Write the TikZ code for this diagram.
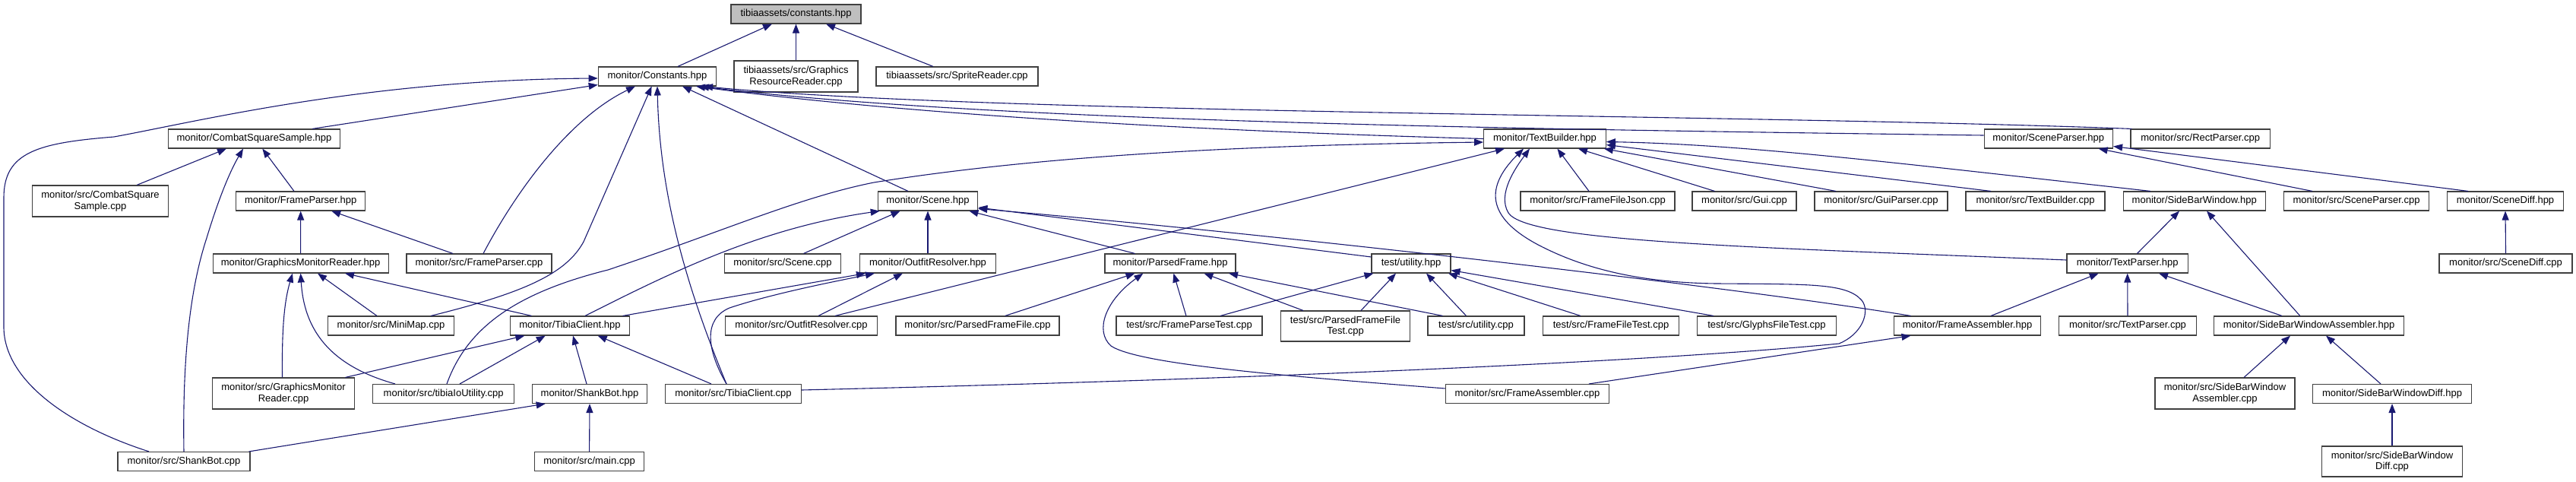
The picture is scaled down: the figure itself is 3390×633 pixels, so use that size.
\documentclass[tikz,border=0pt]{standalone}
\usepackage{fontspec}
\setmainfont{Liberation Sans}
\usetikzlibrary{arrows.meta}
\definecolor{navyedge}{HTML}{191970}
\definecolor{boxline}{HTML}{404040}
\definecolor{rootfill}{HTML}{BFBFBF}
\begin{document}
\begin{tikzpicture}[x=1pt,y=-1pt,
  box/.style={draw=boxline,line width=1.1pt,fill=white,inner sep=0pt,align=center,
    font=\fontsize{13}{14.5}\selectfont,minimum height=25pt},
  dep/.style={draw=navyedge,line width=1.1pt,-{Triangle[length=12pt,width=9pt]}}]
\useasboundingbox (0,0) rectangle (3390,633);
% row 0
\node[box,fill=rootfill,minimum width=171pt] (root) at (1047.5,18.5) {tibiaassets/constants.hpp};
% row 1
\node[box,minimum width=155.5pt] (Const) at (865,100.5) {monitor/Constants.hpp};
\node[box,minimum width=163pt,minimum height=41pt] (GRR) at (1047.5,100.5) {tibiaassets/src/Graphics\\ResourceReader.cpp};
\node[box,minimum width=213pt] (Sprite) at (1259.5,100.5) {tibiaassets/src/SpriteReader.cpp};
% row 2
\node[box,minimum width=225.5pt] (CSSh) at (334.5,182.5) {monitor/CombatSquareSample.hpp};
\node[box,minimum width=160.7pt] (TBh) at (2033,182.5) {monitor/TextBuilder.hpp};
\node[box,minimum width=169.5pt] (SPh) at (2695.8,182.5) {monitor/SceneParser.hpp};
\node[box,minimum width=183.5pt] (Rect) at (2895.7,182.5) {monitor/src/RectParser.cpp};
% row 3
\node[box,minimum width=179pt,minimum height=41pt] (CSSc) at (132,264.5) {monitor/src/CombatSquare\\Sample.cpp};
\node[box,minimum width=169.7pt] (FPh) at (395.7,264.5) {monitor/FrameParser.hpp};
\node[box,minimum width=131.5pt] (Sceneh) at (1221,264.5) {monitor/Scene.hpp};
\node[box,minimum width=203pt] (FFJ) at (2102.5,264.5) {monitor/src/FrameFileJson.cpp};
\node[box,minimum width=137pt] (Gui) at (2295.5,264.5) {monitor/src/Gui.cpp};
\node[box,minimum width=175pt] (GuiP) at (2475.5,264.5) {monitor/src/GuiParser.cpp};
\node[box,minimum width=183pt] (TBc) at (2678.5,264.5) {monitor/src/TextBuilder.cpp};
\node[box,minimum width=187pt] (SBW) at (2887.7,264.5) {monitor/SideBarWindow.hpp};
\node[box,minimum width=190.5pt] (SPc) at (3101,264.5) {monitor/src/SceneParser.cpp};
\node[box,minimum width=152.5pt] (SDh) at (3297,264.5) {monitor/SceneDiff.hpp};
% row 4
\node[box,minimum width=231pt] (GMRh) at (395.6,346.5) {monitor/GraphicsMonitorReader.hpp};
\node[box,minimum width=191pt] (FPc) at (630.5,346.5) {monitor/src/FrameParser.cpp};
\node[box,minimum width=153.4pt] (Scenec) at (1030,346.5) {monitor/src/Scene.cpp};
\node[box,minimum width=179pt] (ORh) at (1221,346.5) {monitor/OutfitResolver.hpp};
\node[box,minimum width=172pt] (PFh) at (1540,346.5) {monitor/ParsedFrame.hpp};
\node[box,minimum width=104pt] (TUh) at (1857,346.5) {test/utility.hpp};
\node[box,minimum width=159.4pt] (TPh) at (2799.7,346.5) {monitor/TextParser.hpp};
\node[box,minimum width=175pt] (SDc) at (3297.5,346.5) {monitor/src/SceneDiff.cpp};
% row 5
\node[box,minimum width=166pt] (Mini) at (514.5,428.5) {monitor/src/MiniMap.cpp};
\node[box,minimum width=156.5pt] (TCh) at (750,428.5) {monitor/TibiaClient.hpp};
\node[box,minimum width=200.4pt] (ORc) at (1054.5,428.5) {monitor/src/OutfitResolver.cpp};
\node[box,minimum width=215pt] (PFFc) at (1286.5,428.5) {monitor/src/ParsedFrameFile.cpp};
\node[box,minimum width=192pt] (FPT) at (1565,428.5) {test/src/FrameParseTest.cpp};
\node[box,minimum width=169.5pt,minimum height=40pt] (PFFT) at (1770.5,429) {test/src/ParsedFrameFile\\Test.cpp};
\node[box,minimum width=127pt] (TUc) at (1942.5,428.5) {test/src/utility.cpp};
\node[box,minimum width=179pt] (FFT) at (2120,428.5) {test/src/FrameFileTest.cpp};
\node[box,minimum width=183pt] (GFT) at (2325,428.5) {test/src/GlyphsFileTest.cpp};
\node[box,minimum width=193.7pt] (FAh) at (2589,428.5) {monitor/FrameAssembler.hpp};
\node[box,minimum width=180.5pt] (TPc) at (2800,428.5) {monitor/src/TextParser.cpp};
\node[box,minimum width=250pt] (SBWAh) at (3038.5,428.5) {monitor/SideBarWindowAssembler.hpp};
% row 6
\node[box,minimum width=187.6pt,minimum height=41pt] (GMRc) at (373,517.5) {monitor/src/GraphicsMonitor\\Reader.cpp};
\node[box,minimum width=186pt] (TIU) at (583.7,518) {monitor/src/tibiaIoUtility.cpp};
\node[box,minimum width=151.5pt] (SBh) at (776,518) {monitor/ShankBot.hpp};
\node[box,minimum width=178.8pt] (TCc) at (965,518) {monitor/src/TibiaClient.cpp};
\node[box,minimum width=215.5pt] (FAc) at (2010,518) {monitor/src/FrameAssembler.cpp};
\node[box,minimum width=184pt,minimum height=41pt] (SBWAc) at (2928,517.5) {monitor/src/SideBarWindow\\Assembler.cpp};
\node[box,minimum width=208.3pt] (SBWDh) at (3148,518) {monitor/SideBarWindowDiff.hpp};
% row 7
\node[box,minimum width=174pt] (SBc) at (242,607) {monitor/src/ShankBot.cpp};
\node[box,minimum width=144pt] (main) at (775.6,607) {monitor/src/main.cpp};
\node[box,minimum width=184.5pt,minimum height=40pt] (SBWDc) at (3148,607) {monitor/src/SideBarWindow\\Diff.cpp};

% edges (arrow tip at the included file)
\draw[dep] ([xshift=27pt]Const.north) -- ([xshift=-31.5pt]root.south);
\draw[dep] (GRR.north) -- (root.south);
\draw[dep] ([xshift=-31.5pt]Sprite.north) -- ([xshift=39.5pt]root.south);
\draw[dep] ([xshift=76.5pt]CSSh.north) -- ([yshift=2pt]Const.south west);
\draw[dep] ([xshift=-46pt]SBc.north) .. controls (90,560) and (5,500) .. (5,430) -- (5,260) .. controls (5,200) and (50,188) .. (150,180) .. controls (260,160) and (480,105) .. ([yshift=-2.5pt]Const.west);
\draw[dep] ([xshift=5.5pt]FPc.north) .. controls (680,250) and (750,155) .. ([xshift=-29pt]Const.south);
\draw[dep] ([xshift=52.5pt]Mini.north) .. controls (690,385) and (745,360) .. (768,318) -- ([xshift=-7.4pt]Const.south);
\draw[dep] ([xshift=-9pt]TCc.north) .. controls (900,370) and (868,250) .. (Const.south);
\draw[dep] ([xshift=-26pt]Sceneh.north) -- ([xshift=33pt]Const.south);
\draw[dep] (TBh.west) .. controls (1500,170) and (1150,145) .. ([xshift=51pt]Const.south);
\draw[dep] ([yshift=4.5pt]SPh.west) .. controls (2000,170) and (1300,160) .. ([xshift=56pt]Const.south);
\draw[dep] ([xshift=2pt]Rect.north west) .. controls (2300,150) and (1300,150) .. ([xshift=61pt]Const.south);
\draw[dep] ([xshift=4.3pt]TIU.north) .. controls (615,430) and (680,385) .. (800,355) .. controls (950,305) and (1050,260) .. (1150,240) .. controls (1400,200) and (1700,190) .. ([yshift=-4.5pt]TBh.west);
\draw[dep] ([xshift=44.5pt]ORc.north) -- ([xshift=-53pt]TBh.south);
\draw[dep] ([xshift=-11.5pt]FFJ.north) -- ([xshift=16.4pt]TBh.south);
\draw[dep] ([xshift=-39pt]Gui.north) -- ([xshift=44pt]TBh.south);
\draw[dep] ([xshift=-59.5pt]GuiP.north) -- ([xshift=-3pt]TBh.south east);
\draw[dep] ([xshift=-58.5pt]TBc.north) -- ([yshift=-8pt]TBh.east);
\draw[dep] ([xshift=-57.7pt]SBW.north) .. controls (2500,215) and (2300,190) .. ([yshift=-4pt]TBh.east);
\draw[dep] ([yshift=4.5pt]TPh.west) .. controls (2300,325) and (2010,318) .. (1985,280) .. controls (1970,255) and (1995,220) .. ([xshift=-20pt]TBh.south);
\draw[dep] ([yshift=5pt]TCc.east) .. controls (1600,500) and (2150,478) .. (2420,452) .. controls (2450,440) and (2462,410) .. (2450,395) .. controls (2430,372) and (2380,374) .. (2260,373) .. controls (2150,372) and (2080,350) .. (2030,325) .. controls (1960,290) and (1950,250) .. ([xshift=-28pt]TBh.south);
\draw[dep] ([xshift=20pt]TCh.north) .. controls (880,360) and (1000,300) .. ([xshift=3pt]Sceneh.south west);
\draw[dep] ([xshift=27.5pt]Scenec.north) -- ([xshift=-36.5pt]Sceneh.south);
\draw[dep] (ORh.north) -- (Sceneh.south);
\draw[dep] ([xshift=-46.5pt]PFh.north) -- ([xshift=54.4pt]Sceneh.south);
\draw[dep] ([yshift=8.5pt]TUh.west) -- ([yshift=-8.5pt]Sceneh.east);
\draw[dep] ([xshift=-74.5pt]FAh.north) .. controls (2300,380) and (1700,310) .. ([yshift=-10pt]Sceneh.east);
\draw[dep] ([xshift=22.5pt]ORc.north) -- ([xshift=-33pt]ORh.south);
\draw[dep] ([xshift=69.5pt]TCh.north) -- ([xshift=8pt]ORh.south west);
\draw[dep] ([xshift=-9pt]TCc.north) .. controls (930,460) and (925,420) .. (960,405) .. controls (1020,385) and (1110,368) .. ([xshift=20pt]ORh.south west);
\draw[dep] ([xshift=81.4pt]GMRc.north) -- ([xshift=-59.6pt]TCh.south);
\draw[dep] ([xshift=21.3pt]TIU.north) -- ([xshift=-32.3pt]TCh.south);
\draw[dep] ([xshift=-4pt]SBh.north) -- ([xshift=4pt]TCh.south);
\draw[dep] ([xshift=-29pt]TCc.north) -- ([xshift=36.7pt]TCh.south);
\draw[dep] ([xshift=-18.5pt]Mini.north) -- ([xshift=22.4pt]GMRh.south);
\draw[dep] ([xshift=-50.5pt]TCh.north) -- ([xshift=58.4pt]GMRh.south);
\draw[dep] ([xshift=-1.5pt]GMRc.north) .. controls (371,440) and (373,400) .. ([xshift=-10.6pt]GMRh.south);
\draw[dep] ([xshift=-63.7pt]TIU.north) .. controls (430,480) and (400,430) .. (GMRh.south);
\draw[dep] (GMRh.north) -- (FPh.south);
\draw[dep] ([xshift=-34.5pt]FPc.north) -- ([xshift=40.5pt]FPh.south);
\draw[dep] ([xshift=48pt]CSSc.north) -- ([xshift=-36.5pt]CSSh.south);
\draw[dep] (SBc.north) .. controls (240,470) and (250,380) .. (272,313) .. controls (285,270) and (300,230) .. ([xshift=-14.5pt]CSSh.south);
\draw[dep] ([xshift=-8.7pt]FPh.north) -- ([xshift=10.8pt]CSSh.south);
\draw[dep] (main.north) -- (SBh.south);
\draw[dep] ([xshift=-2pt]SBc.north east) -- ([xshift=-58.3pt]SBh.south);
\draw[dep] ([xshift=36.2pt]PFFc.north) -- ([xshift=-46.5pt]PFh.south);
\draw[dep] ([yshift=7pt]FAc.west) .. controls (1700,495) and (1500,480) .. (1462,455) .. controls (1440,435) and (1455,395) .. ([xshift=-35.6pt]PFh.south);
\draw[dep] ([xshift=-4pt]FPT.north) -- ([xshift=4.4pt]PFh.south);
\draw[dep] ([xshift=-55.5pt]PFFT.north) -- ([xshift=44.4pt]PFh.south);
\draw[dep] ([xshift=-44pt]TUc.north) -- ([xshift=77pt]PFh.south);
\draw[dep] ([xshift=41pt]FPT.north) -- ([xshift=3pt]TUh.south west);
\draw[dep] ([xshift=20.5pt]PFFT.north) -- ([xshift=-20pt]TUh.south);
\draw[dep] ([xshift=-13pt]TUc.north) -- ([xshift=20pt]TUh.south);
\draw[dep] ([xshift=-40pt]FFT.north) -- ([xshift=49pt]TUh.south);
\draw[dep] ([xshift=-70pt]GFT.north) -- ([yshift=-9pt]TUh.east);
\draw[dep] ([xshift=81pt]FAc.north) -- ([xshift=-74.5pt]FAh.south);
\draw[dep] ([xshift=31pt]FAh.north) -- ([xshift=-38pt]TPh.south);
\draw[dep] (TPc.north) -- (TPh.south);
\draw[dep] ([xshift=-35.5pt]SBWAh.north) -- ([xshift=41.3pt]TPh.south);
\draw[dep] ([xshift=12.8pt]TPh.north) -- ([xshift=-19.7pt]SBW.south);
\draw[dep] ([xshift=-11.7pt]SBWAh.north) -- ([xshift=16.3pt]SBW.south);
\draw[dep] ([xshift=-58pt]SPc.north) -- ([xshift=65.8pt]SPh.south);
\draw[dep] ([xshift=-49pt]SDh.north) -- ([yshift=-10pt]SPh.east);
\draw[dep] (SDc.north) -- (SDh.south);
\draw[dep] ([xshift=25pt]SBWAc.north) -- ([xshift=-24.5pt]SBWAh.south);
\draw[dep] ([xshift=-15pt]SBWDh.north) -- ([xshift=22.5pt]SBWAh.south);
\draw[dep] (SBWDc.north) -- (SBWDh.south);
\end{tikzpicture}
\end{document}
